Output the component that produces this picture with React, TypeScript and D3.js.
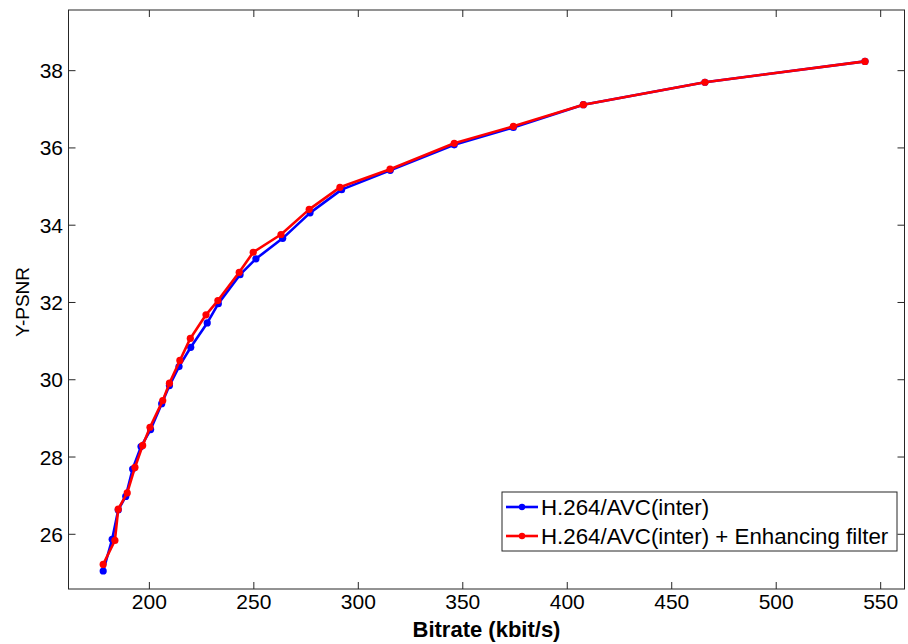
import React from "react";
import * as d3 from "d3";

const blueX = [177.9, 182.2, 185.1, 188.7, 192.0, 196.0, 200.6, 205.9, 209.6, 214.2, 219.8, 227.7, 233.0, 243.4, 251.0, 263.8, 276.9, 292.0, 315.3, 345.9, 374.2, 407.7, 465.9, 542.5];
const blueY = [25.05, 25.87, 26.63, 26.98, 27.69, 28.27, 28.71, 29.38, 29.85, 30.34, 30.84, 31.47, 31.97, 32.72, 33.13, 33.66, 34.32, 34.92, 35.42, 36.08, 36.53, 37.12, 37.70, 38.24];
const redX = [177.9, 183.5, 185.1, 189.4, 193.1, 196.8, 200.3, 206.4, 209.6, 214.6, 219.6, 227.1, 232.8, 243.0, 249.7, 263.0, 276.5, 291.2, 315.2, 345.9, 374.2, 407.7, 465.9, 542.5];
const redY = [25.22, 25.84, 26.65, 27.07, 27.73, 28.30, 28.77, 29.46, 29.91, 30.50, 31.07, 31.68, 32.05, 32.78, 33.30, 33.76, 34.41, 34.98, 35.45, 36.12, 36.56, 37.12, 37.70, 38.24];

const xTicks = [200, 250, 300, 350, 400, 450, 500, 550];
const yTicks = [26, 28, 30, 32, 34, 36, 38];
const seriesNames = ["H.264/AVC(inter)", "H.264/AVC(inter) + Enhancing filter"];
const seriesColors = ["#0000ff", "#ff0000"];

const W = 908, H = 644;
const L = 68.5, R = 904.5, T = 10, B = 589;
const FONT = "'Liberation Sans', Arial, sans-serif";

export default function App() {
  const x = d3.scaleLinear().domain([161.3, 561.4]).range([L, R]);
  const y = d3.scaleLinear().domain([24.584, 39.57]).range([B, T]);
  const series = [
    { xs: blueX, ys: blueY, color: seriesColors[0] },
    { xs: redX, ys: redY, color: seriesColors[1] },
  ];
  const line = d3.line<[number, number]>().x(d => x(d[0])).y(d => y(d[1]));
  const axisColor = "#262626";
  const tl = 7;
  return (
    <svg width={W} height={H} style={{ position: "absolute", left: 0, top: 0, background: "#fff" }} fontFamily={FONT}>
      <rect x={0} y={0} width={W} height={H} fill="#fff" />
      {xTicks.map(t => (
        <g key={"x" + t}>
          <line x1={x(t)} x2={x(t)} y1={B} y2={B - tl} stroke={axisColor} strokeWidth={1} />
          <line x1={x(t)} x2={x(t)} y1={T} y2={T + tl} stroke={axisColor} strokeWidth={1} />
          <text x={x(t)} y={609} textAnchor="middle" fontSize={21} fill="#000">{t}</text>
        </g>
      ))}
      {yTicks.map(t => (
        <g key={"y" + t}>
          <line x1={L} x2={L + tl} y1={y(t)} y2={y(t)} stroke={axisColor} strokeWidth={1} />
          <line x1={R} x2={R - tl} y1={y(t)} y2={y(t)} stroke={axisColor} strokeWidth={1} />
          <text x={63} y={y(t)} dy="0.36em" textAnchor="end" fontSize={21} fill="#000">{t}</text>
        </g>
      ))}
      <rect x={L} y={T} width={R - L} height={B - T} fill="none" stroke={axisColor} strokeWidth={1} />
      {series.map((s, i) => {
        const pts = s.xs.map((v, k) => [v, s.ys[k]] as [number, number]);
        return (
          <g key={"s" + i}>
            <path d={line(pts) || ""} fill="none" stroke={s.color} strokeWidth={2.6} strokeLinejoin="round" />
            {pts.map((p, k) => (
              <circle key={k} cx={x(p[0])} cy={y(p[1])} r={3.6} fill={s.color} />
            ))}
          </g>
        );
      })}
      <text x={486.5} y={637} textAnchor="middle" fontSize={22} fontWeight="bold" fill="#000">Bitrate (kbit/s)</text>
      <text transform={`translate(29,302) rotate(-90)`} textAnchor="middle" fontSize={19} fill="#000">Y-PSNR</text>
      <g>
        <rect x={502} y={492} width={395} height={59} fill="#fff" stroke={axisColor} strokeWidth={1} />
        {seriesNames.map((n, i) => {
          const ly = 507 + i * 29;
          return (
            <g key={"l" + i}>
              <line x1={506} x2={538} y1={ly} y2={ly} stroke={seriesColors[i]} strokeWidth={2.6} />
              <circle cx={522} cy={ly} r={3.2} fill={seriesColors[i]} />
              <text x={541} y={ly} dy="0.36em" fontSize={22.3} fill="#000">{n}</text>
            </g>
          );
        })}
      </g>
    </svg>
  );
}
